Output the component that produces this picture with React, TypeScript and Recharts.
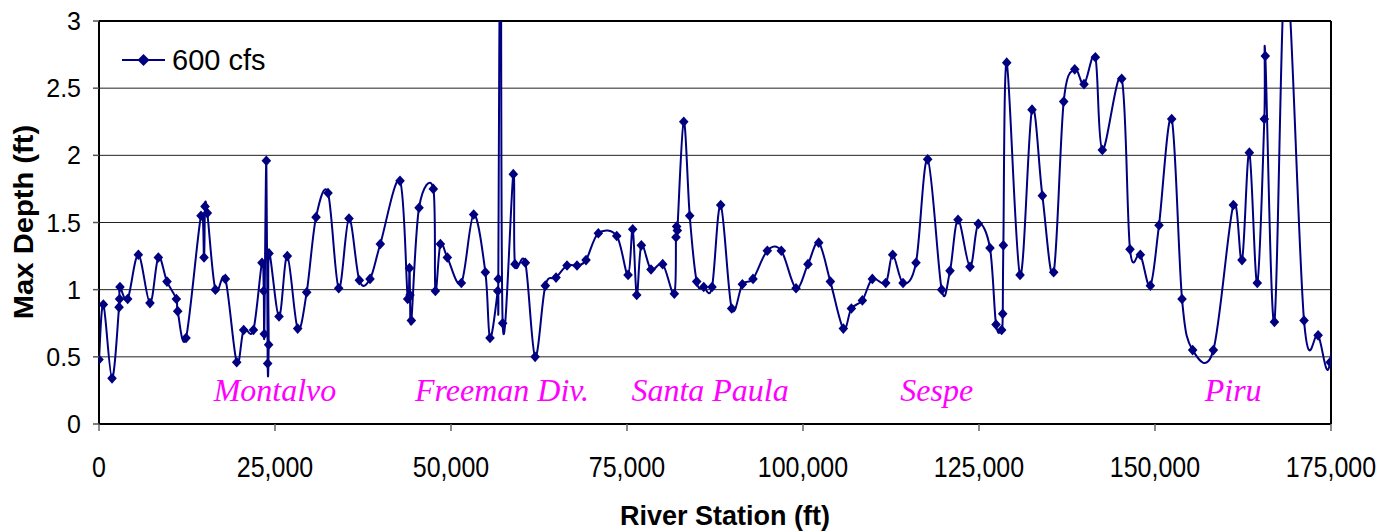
import { LineChart, Line, XAxis, YAxis, CartesianGrid, ReferenceLine, ReferenceDot, Label } from "recharts";

// River station (ft) and max depth (ft) at 600 cfs
const stations = [
  0, 620, 1850, 2850, 2920, 2980, 4070, 5590, 7240, 8430, 9660, 10990, 11180, 12360,
  14490, 14920, 15060, 15390, 16530, 17950, 19560, 20550, 21930, 23150, 23400, 23480,
  23770, 23960, 24100, 24150, 25570, 26750, 28220, 29500, 30830, 32530, 34050, 35510,
  36980, 38500, 39960, 42760, 43850, 44100, 44180, 44370, 45460, 47490, 47780, 48490,
  49480, 51470, 53220, 54880, 55540, 56640, 56720, 57060, 57340, 58850, 59090, 60560,
  61950, 63400, 64920, 66480, 67900, 69180, 70930, 73540, 75150, 75810, 76380, 77040,
  78410, 80070, 81720, 81960, 82050, 82150, 83060, 83910, 84900, 85900, 87080, 88310,
  89870, 91390, 92900, 94930, 96920, 99010, 100710, 102230, 103890, 105730, 106870,
  108430, 109850, 111750, 112740, 114210, 116050, 117710, 119700, 120880, 122020,
  123720, 124900, 126560, 127420, 128220, 128370, 128460, 128940, 130830, 132530,
  134000, 135610, 137030, 138600, 139920, 141530, 142520, 145270, 146450, 147920,
  149340, 150570, 152370, 153840, 155350, 158290, 161130, 162360, 163400, 164530,
  165530, 165670, 166960, 168600, 171170, 173170, 174870, 176500,
];
const depths = [
  0.48, 0.89, 0.34, 0.87, 0.93, 1.02, 0.93, 1.26, 0.9, 1.24, 1.06, 0.93, 0.84, 0.64,
  1.55, 1.24, 1.62, 1.57, 1.0, 1.08, 0.46, 0.7, 0.7, 1.2, 0.99, 0.67,
  1.96, 0.45, 0.59, 1.27, 0.8, 1.25, 0.71, 0.98, 1.54, 1.72, 1.01, 1.53,
  1.07, 1.08, 1.34, 1.81, 0.93, 1.16, 0.96, 0.77, 1.61, 1.75, 0.99, 1.34,
  1.24, 1.05, 1.56, 1.13, 0.64, 0.99, 1.08, 4.5, 0.75, 1.86, 1.19, 1.2,
  0.5, 1.03, 1.09, 1.18, 1.18, 1.22, 1.42, 1.4, 1.11, 1.45, 0.96, 1.33,
  1.15, 1.19, 0.97, 1.39, 1.47, 1.44, 2.25, 1.55, 1.06, 1.02, 1.02, 1.63,
  0.86, 1.04, 1.08, 1.29, 1.29, 1.01, 1.19, 1.35, 1.06, 0.71, 0.86,
  0.92, 1.08, 1.05, 1.26, 1.05, 1.2, 1.97, 1.0, 1.14, 1.52,
  1.17, 1.49, 1.31, 0.74, 0.7, 0.82, 1.33, 2.69, 1.11, 2.34,
  1.7, 1.13, 2.4, 2.64, 2.53, 2.73, 2.04, 2.57, 1.3, 1.26,
  1.03, 1.48, 2.27, 0.93, 0.55, 0.55, 1.63, 1.22, 2.02, 1.05,
  2.27, 2.74, 0.76, 3.4, 0.77, 0.66, 0.46, 1.8,
];

const xTicks = [0, 25000, 50000, 75000, 100000, 125000, 150000, 175000];
const yTicks = [0, 0.5, 1, 1.5, 2, 2.5, 3];

// Reach names written along the bottom of the plot
const placeNames = ["Montalvo", "Freeman Div.", "Santa Paula", "Sespe", "Piru"];
const placeStations = [25000, 57250, 86800, 119000, 161100];
const placeDepth = 0.17;

const data = stations.map((station, i) => ({ station, depth: depths[i] }));

const NAVY = "#000080";
const SANS = "'Liberation Sans', Arial, sans-serif";

// Excel-style smoothed line: cubic Bezier through every point,
// control points one sixth of the neighbour chord away
const smoothCurve = (context: any) => {
  let pts: [number, number][] = [];
  return {
    areaStart() {},
    areaEnd() {},
    lineStart() {
      pts = [];
    },
    point(x: number, y: number) {
      pts.push([+x, +y]);
    },
    lineEnd() {
      const n = pts.length;
      if (!n) return;
      context.moveTo(pts[0][0], pts[0][1]);
      for (let i = 0; i < n - 1; i++) {
        const p0 = pts[Math.max(i - 1, 0)];
        const p1 = pts[i];
        const p2 = pts[i + 1];
        const p3 = pts[Math.min(i + 2, n - 1)];
        context.bezierCurveTo(
          p1[0] + (p2[0] - p0[0]) / 6,
          p1[1] + (p2[1] - p0[1]) / 6,
          p2[0] - (p3[0] - p1[0]) / 6,
          p2[1] - (p3[1] - p1[1]) / 6,
          p2[0],
          p2[1]
        );
      }
    },
  };
};

const Diamond = (props: any) => {
  const { cx, cy, index } = props;
  if (cx == null || cy == null) return <g key={`d-${index}`} />;
  return (
    <path
      key={`d-${index}`}
      d={`M${cx},${cy - 5.3}L${cx + 4.8},${cy}L${cx},${cy + 5.3}L${cx - 4.8},${cy}Z`}
      fill={NAVY}
    />
  );
};

const XTick = ({ x, y, payload }: any) => (
  <text
    transform={`translate(${x},${y + 34}) scale(1,1.15)`}
    textAnchor="middle"
    dy="0.36em"
    fontFamily={SANS}
    fontSize={25}
    fill="#000"
  >
    {payload.value.toLocaleString("en-US")}
  </text>
);

const YTick = ({ x, y, payload }: any) => (
  <text x={x} y={y} textAnchor="end" dy="0.36em" fontFamily={SANS} fontSize={25} fill="#000">
    {payload.value}
  </text>
);

export default function App() {
  return (
    <div style={{ position: "relative", width: 1387, height: 523 }}>
      <LineChart width={1387} height={523} data={data} margin={{ top: 13, right: 64, bottom: 0, left: 0 }}>
        <CartesianGrid horizontal vertical={false} stroke="#222" strokeWidth={1} />
        <XAxis
          type="number"
          dataKey="station"
          domain={[0, 175000]}
          ticks={xTicks}
          allowDataOverflow
          height={107}
          stroke="#000"
          strokeWidth={2}
          tickSize={7}
          tickLine={{ stroke: "#666", strokeWidth: 1.5 }}
          tick={<XTick />}
        >
          <Label
            content={() => (
              <text
                x={717}
                y={507}
                textAnchor="middle"
                dy="0.36em"
                fontFamily={SANS}
                fontWeight="bold"
                fontSize={27}
                fill="#000"
              >
                River Station (ft)
              </text>
            )}
          />
        </XAxis>
        <YAxis
          type="number"
          domain={[0, 3]}
          ticks={yTicks}
          allowDataOverflow
          width={91}
          stroke="#000"
          strokeWidth={2}
          tickSize={6}
          tickMargin={12}
          tickLine={{ stroke: "#555", strokeWidth: 1.5 }}
          tick={<YTick />}
        >
          <Label
            content={() => (
              <text
                transform="translate(15,214) rotate(-90) scale(1.08,1)"
                textAnchor="middle"
                dy="0.36em"
                fontFamily={SANS}
                fontWeight="bold"
                fontSize={27}
                fill="#000"
              >
                Max Depth (ft)
              </text>
            )}
          />
        </YAxis>
        <ReferenceLine y={3} stroke="#000" strokeWidth={2} />
        <ReferenceLine x={175000} stroke="#000" strokeWidth={2} />
        {placeNames.map((name, i) => (
          <ReferenceDot
            key={name}
            x={placeStations[i]}
            y={placeDepth}
            r={0}
            shape={(p: any) => (
              <text
                x={p.cx}
                y={p.cy}
                textAnchor="middle"
                fontFamily="'Liberation Serif', 'Times New Roman', serif"
                fontStyle="italic"
                fontSize={32}
                fill="#FF00FF"
              >
                {name}
              </text>
            )}
          />
        ))}
        <Line
          type={smoothCurve as any}
          dataKey="depth"
          stroke={NAVY}
          strokeWidth={2}
          dot={Diamond}
          activeDot={false}
          isAnimationActive={false}
        />
      </LineChart>
      <div
        style={{
          position: "absolute",
          left: 114,
          top: 37,
          display: "flex",
          alignItems: "center",
          height: 30,
          fontFamily: SANS,
          fontSize: 29,
          color: "#000",
        }}
      >
        <svg width={44} height={14} style={{ marginRight: 6 }}>
          <line x1={0} y1={7} x2={43} y2={7} stroke={NAVY} strokeWidth={2} />
          <path d="M21.5,1L27.5,7L21.5,13L15.5,7Z" fill={NAVY} />
        </svg>
        <span>600 cfs</span>
      </div>
    </div>
  );
}
